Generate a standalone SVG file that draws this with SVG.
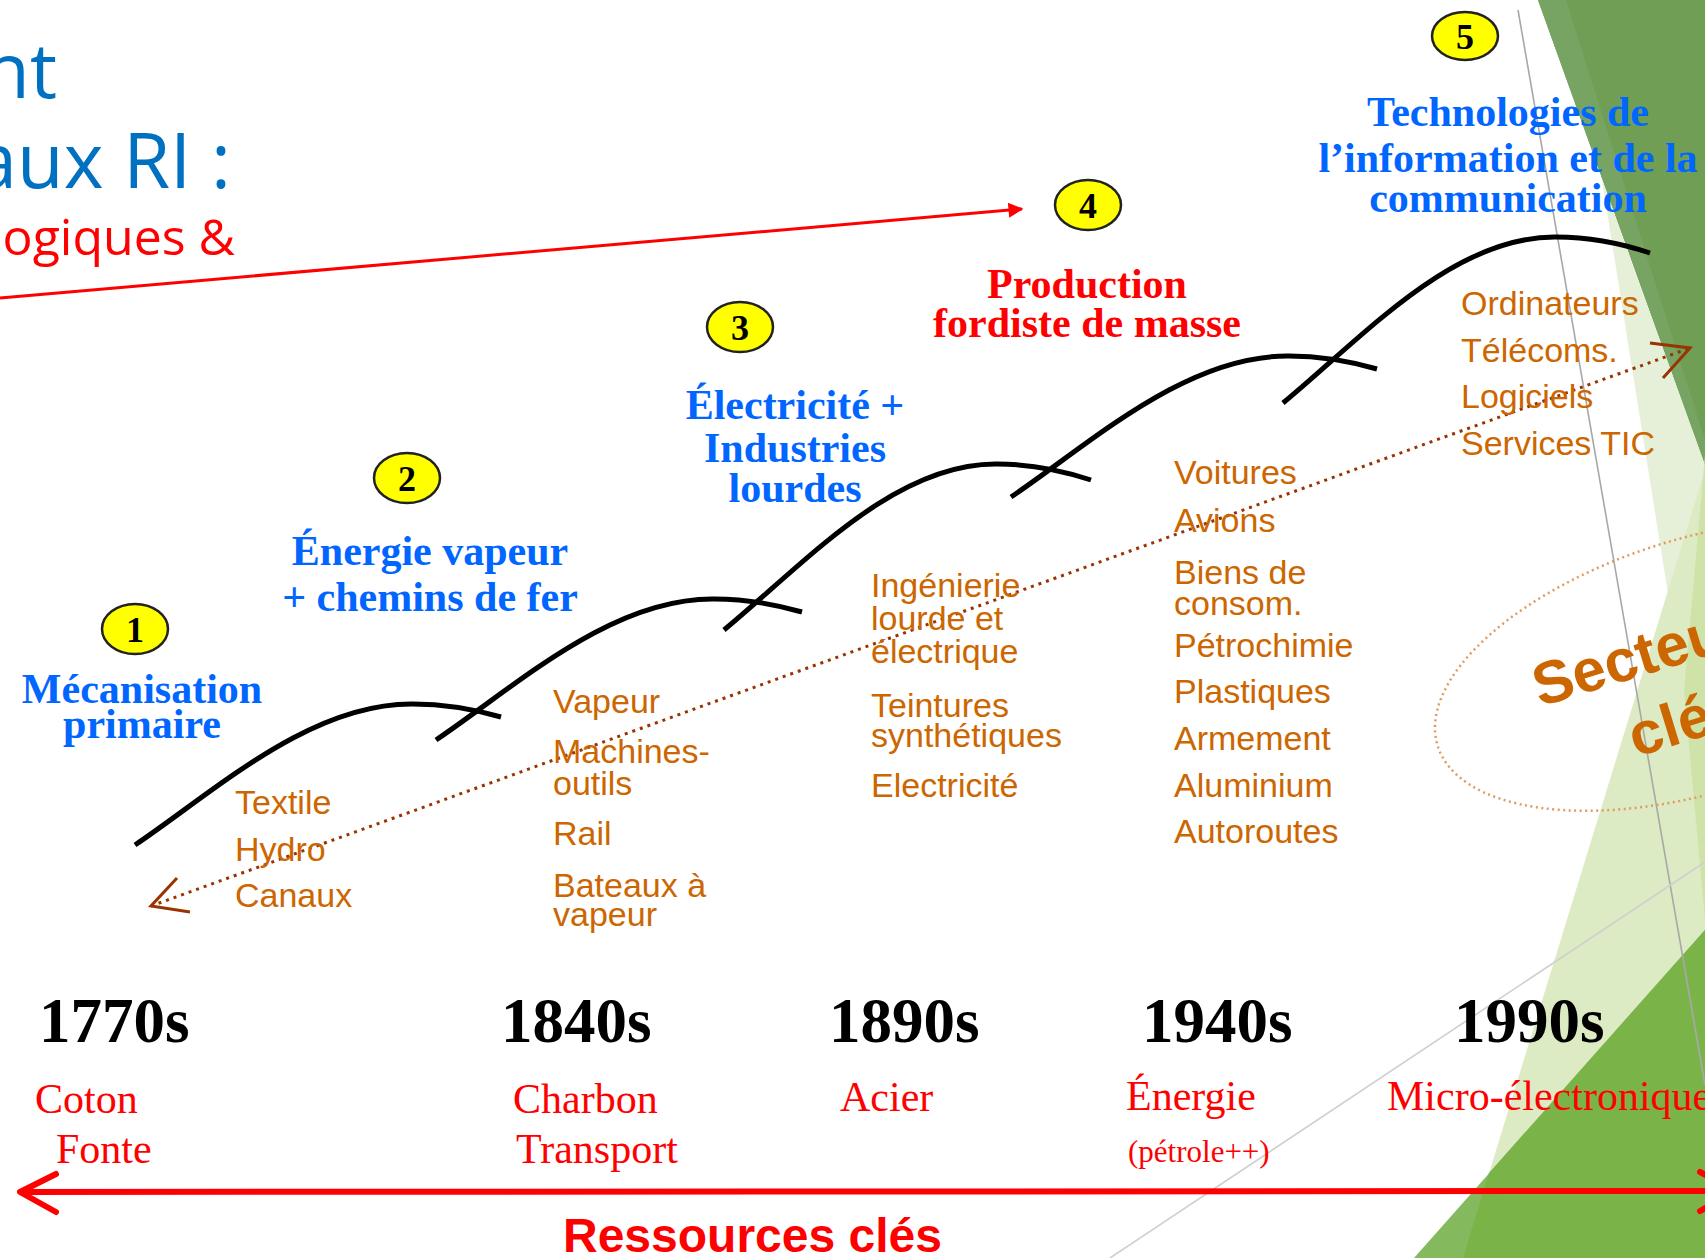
<svg xmlns="http://www.w3.org/2000/svg" width="1705" height="1258" viewBox="0 0 1705 1258">
<style>
.title{font-family:"Open Sans","DejaVu Sans",sans-serif;fill:#0070C0;font-size:76px;text-anchor:end}
.sub{font-family:"Open Sans","DejaVu Sans",sans-serif;fill:#FF0000;font-size:50px;text-anchor:end}
.stage{font-family:"Liberation Serif","Times New Roman",serif;font-weight:bold;font-size:42px;fill:#0066FF;text-anchor:middle}
.red{fill:#FF0000}
.num{font-family:"Liberation Serif","Times New Roman",serif;font-weight:bold;font-size:36px;text-anchor:middle;fill:#000}
.badge{fill:#FFFF00;stroke:#222;stroke-width:2.5}
.item{font-family:"Liberation Sans",Arial,sans-serif;font-size:34px;fill:#CC6600}
.year{font-family:"Liberation Serif","Times New Roman",serif;font-weight:bold;font-size:63px;fill:#000}
.res{font-family:"Liberation Serif","Times New Roman",serif;font-size:42px;fill:#FF0000}
.wave{fill:none;stroke:#000;stroke-width:5}
.sect{font-family:"Liberation Sans",Arial,sans-serif;font-weight:bold;font-size:60px;fill:#CC6600}
</style>
<defs>
<marker id="redHead" viewBox="0 0 10 10" refX="9" refY="5" markerWidth="6" markerHeight="5" markerUnits="strokeWidth" orient="auto">
<path d="M0,0 L10,5 L0,10 Z" fill="#FF0000"/>
</marker>
</defs>

<g id="background">
<polygon points="1538,0 1705,0 1705,465" fill="#6F9E54"/>
<polygon points="1538,0 1566,0 1705,440 1705,465" fill="#77A462"/>
<polygon points="1602,180 1705,465 1705,600 1669,600" fill="#E6F0D8"/>
<polygon points="1463,1258 1705,470 1705,1258" fill="#DCEBC4"/>
<polygon points="1705,455 1684,690 1705,920" fill="#CFE3A8"/>
<polygon points="1414,1258 1705,930 1705,1258" fill="#84B95E"/>
<polygon points="1463,1258 1489,1173 1705,930 1705,1258" fill="#7AB448"/>
<line x1="1518" y1="10" x2="1705" y2="1085" stroke="#A8A8A8" stroke-width="1.6"/>
<line x1="1110" y1="1258" x2="1705" y2="862" stroke="#CFCFCF" stroke-width="1.6"/>
</g>

<g id="title">
<text class="title" x="57" y="98">nt</text>
<text class="title" x="231" y="188">aux RI :</text>
<text class="sub" x="235" y="255">ogiques &amp;</text>
</g>

<g id="waves">
<path class="wave" d="M135,845 c80,-54 175,-142 278,-141 c37,0 67,7 88,13"/>
<path class="wave" d="M436,740 c80,-54 175,-142 278,-141 c37,0 67,7 88,13"/>
<path class="wave" d="M724,630 c80,-66 170,-167 273,-166 c37,0 70,8 94,16"/>
<path class="wave" d="M1011,497 c80,-54 175,-142 278,-141 c37,0 67,7 88,13"/>
<path class="wave" d="M1283,403 c80,-66 170,-167 273,-166 c37,0 70,8 94,16"/>
</g>

<g id="connectors">
<line x1="0" y1="298" x2="1022" y2="209" stroke="#FF0000" stroke-width="3" marker-end="url(#redHead)"/>
<line x1="151" y1="906" x2="1690" y2="348" stroke="#993300" stroke-width="3" stroke-dasharray="3 5"/>
<path d="M177,878 L151,906 L190,912" fill="none" stroke="#993300" stroke-width="3"/>
<path d="M1650,343 L1690,348 L1663,378" fill="none" stroke="#993300" stroke-width="3"/>
<line x1="20" y1="1192" x2="1736" y2="1191" stroke="#FF0000" stroke-width="6"/>
<path d="M56,1174 L20,1192 L56,1212" fill="none" stroke="#FF0000" stroke-width="6" stroke-linecap="round" stroke-linejoin="round"/>
<path d="M1700,1172 L1736,1191 L1700,1211" fill="none" stroke="#FF0000" stroke-width="6" stroke-linecap="round" stroke-linejoin="round"/>
</g>

<g id="stage1">
<ellipse class="badge" cx="135" cy="629" rx="33" ry="25"/>
<text class="num" x="135" y="642">1</text>
<text class="stage" x="142" y="703">Mécanisation</text>
<text class="stage" x="142" y="738">primaire</text>
</g>
<g id="stage2">
<ellipse class="badge" cx="407" cy="478" rx="33" ry="25"/>
<text class="num" x="407" y="491">2</text>
<text class="stage" x="430" y="565">Énergie vapeur</text>
<text class="stage" x="430" y="611">+ chemins de fer</text>
</g>
<g id="stage3">
<ellipse class="badge" cx="740" cy="327" rx="33" ry="25"/>
<text class="num" x="740" y="340">3</text>
<text class="stage" x="795" y="419">Électricité +</text>
<text class="stage" x="795" y="462">Industries</text>
<text class="stage" x="795" y="502">lourdes</text>
</g>
<g id="stage4">
<ellipse class="badge" cx="1088" cy="205" rx="33" ry="25"/>
<text class="num red" x="1088" y="218">4</text>
<text class="stage red" x="1087" y="298">Production</text>
<text class="stage red" x="1087" y="337">fordiste de masse</text>
</g>
<g id="stage5">
<ellipse class="badge" cx="1465" cy="36" rx="33" ry="24"/>
<text class="num" x="1465" y="49">5</text>
<text class="stage" x="1508" y="126">Technologies de</text>
<text class="stage" x="1508" y="172">l’information et de la</text>
<text class="stage" x="1508" y="212">communication</text>
</g>

<g id="items1">
<text class="item" x="235" y="814">Textile</text>
<text class="item" x="235" y="861">Hydro</text>
<text class="item" x="235" y="907">Canaux</text>
</g>
<g id="items2">
<text class="item" x="553" y="713">Vapeur</text>
<text class="item" x="553" y="763">Machines-</text>
<text class="item" x="553" y="795">outils</text>
<text class="item" x="553" y="845">Rail</text>
<text class="item" x="553" y="897">Bateaux à</text>
<text class="item" x="553" y="926">vapeur</text>
</g>
<g id="items3">
<text class="item" x="871" y="597">Ingénierie</text>
<text class="item" x="871" y="630">lourde et</text>
<text class="item" x="871" y="663">électrique</text>
<text class="item" x="871" y="717">Teintures</text>
<text class="item" x="871" y="747">synthétiques</text>
<text class="item" x="871" y="797">Electricité</text>
</g>
<g id="items4">
<text class="item" x="1174" y="484">Voitures</text>
<text class="item" x="1174" y="532">Avions</text>
<text class="item" x="1174" y="584">Biens de</text>
<text class="item" x="1174" y="615">consom.</text>
<text class="item" x="1174" y="657">Pétrochimie</text>
<text class="item" x="1174" y="703">Plastiques</text>
<text class="item" x="1174" y="750">Armement</text>
<text class="item" x="1174" y="797">Aluminium</text>
<text class="item" x="1174" y="843">Autoroutes</text>
</g>
<g id="items5">
<text class="item" x="1461" y="315">Ordinateurs</text>
<text class="item" x="1461" y="362">Télécoms.</text>
<text class="item" x="1461" y="408">Logiciels</text>
<text class="item" x="1461" y="455">Services TIC</text>
</g>

<g id="sectors">
<ellipse cx="1700" cy="665" rx="274.5" ry="127" transform="rotate(-17.1 1700 665)" fill="none" stroke="#E09A5E" stroke-width="2.5" stroke-dasharray="2 3.5"/>
<g transform="translate(1540,707) rotate(-17)">
<text class="sect" x="0" y="0">Secteurs</text>
<text class="sect" x="77" y="76">clés</text>
</g>
</g>

<g id="years">
<text class="year" x="39" y="1042">1770s</text>
<text class="year" x="501" y="1042">1840s</text>
<text class="year" x="829" y="1042">1890s</text>
<text class="year" x="1142" y="1042">1940s</text>
<text class="year" x="1454" y="1042">1990s</text>
</g>

<g id="resources">
<text class="res" x="35" y="1113">Coton</text>
<text class="res" x="56" y="1163">Fonte</text>
<text class="res" x="513" y="1113">Charbon</text>
<text class="res" x="516" y="1163">Transport</text>
<text class="res" x="840" y="1111">Acier</text>
<text class="res" x="1126" y="1110">Énergie</text>
<text class="res" x="1128" y="1162" style="font-size:31px">(pétrole++)</text>
<text class="res" x="1387" y="1110">Micro-électronique</text>
<text x="563" y="1252" style="font-family:'Liberation Sans',Arial,sans-serif;font-weight:bold;font-size:48px;fill:#FF0000">Ressources clés</text>
</g>
</svg>
